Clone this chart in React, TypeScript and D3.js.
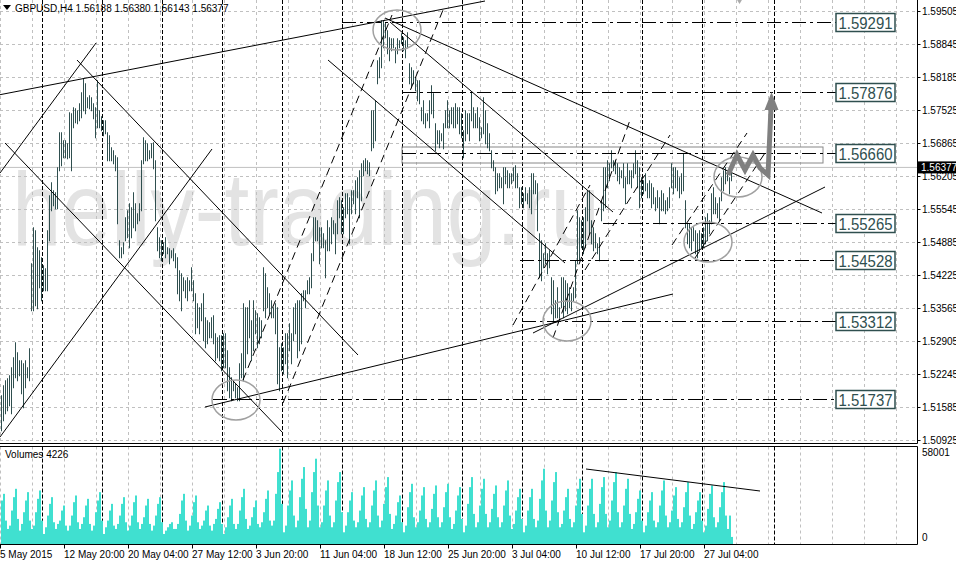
import React from "react";
import * as d3 from "d3";

// ---------- DATA ----------
const highs = [
1.5182,1.5202,1.5212,1.5216,1.5222,1.5238,1.5258,1.5288,1.5268,1.5252,
1.5252,1.5246,1.5252,1.5238,1.5276,1.5446,1.5518,1.5512,1.5478,1.5472,
1.5458,1.5442,1.5436,1.5512,1.5582,1.5608,1.5592,1.5588,1.5638,1.5708,
1.5708,1.5692,1.5692,1.5686,1.5748,1.5746,1.5758,1.5756,1.5752,1.5766,
1.5788,1.5816,1.5806,1.5778,1.5782,1.5778,1.5766,1.5758,1.5812,1.5752,
1.5740,1.5732,1.5732,1.5708,1.5702,1.5678,1.5672,1.5662,1.5658,1.5492,
1.5478,1.5488,1.5538,1.5552,1.5566,1.5558,1.5588,1.5566,1.5546,1.5566,
1.5652,1.5698,1.5692,1.5686,1.5672,1.5686,1.5688,1.5652,1.5518,1.5498,
1.5492,1.5488,1.5498,1.5478,1.5476,1.5472,1.5476,1.5466,1.5458,1.5432,
1.5426,1.5418,1.5412,1.5418,1.5412,1.5438,1.5412,1.5386,1.5366,1.5358,
1.5366,1.5386,1.5338,1.5332,1.5328,1.5338,1.5342,1.5306,1.5298,1.5302,
1.5302,1.5306,1.5306,1.5272,1.5238,1.5218,1.5212,1.5206,1.5198,1.5246,
1.5266,1.5366,1.5358,1.5358,1.5372,1.5332,1.5372,1.5352,1.5346,1.5338,
1.5332,1.5438,1.5426,1.5398,1.5386,1.5372,1.5358,1.5366,1.5358,1.5278,
1.5286,1.5278,1.5306,1.5306,1.5326,1.5306,1.5358,1.5366,1.5372,1.5372,
1.5386,1.5392,1.5392,1.5412,1.5418,1.5466,1.5538,1.5538,1.5532,1.5518,
1.5518,1.5506,1.5492,1.5532,1.5518,1.5538,1.5532,1.5526,1.5572,1.5578,
1.5572,1.5558,1.5586,1.5586,1.5578,1.5592,1.5592,1.5612,1.5618,1.5632,
1.5646,1.5652,1.5656,1.5652,1.5648,1.5752,1.5752,1.5772,1.5852,1.5858,
1.5932,1.5932,1.5928,1.5912,1.5898,1.5896,1.5896,1.5878,1.5896,1.5892,
1.5906,1.5898,1.5892,1.5908,1.5846,1.5838,1.5832,1.5818,1.5812,1.5812,
1.5758,1.5772,1.5746,1.5746,1.5772,1.5802,1.5786,1.5726,1.5712,1.5712,
1.5706,1.5726,1.5752,1.5772,1.5752,1.5758,1.5758,1.5766,1.5758,1.5758,
1.5746,1.5712,1.5752,1.5746,1.5746,1.5788,1.5758,1.5746,1.5758,1.5738,
1.5718,1.5778,1.5752,1.5726,1.5706,1.5672,1.5652,1.5638,1.5626,1.5626,
1.5618,1.5638,1.5638,1.5632,1.5626,1.5626,1.5638,1.5642,1.5626,1.5598,
1.5598,1.5586,1.5598,1.5586,1.5598,1.5626,1.5626,1.5612,1.5606,1.5506,
1.5492,1.5466,1.5486,1.5466,1.5472,1.5418,1.5412,1.5372,1.5398,1.5358,
1.5418,1.5418,1.5412,1.5406,1.5398,1.5386,1.5398,1.5452,1.5552,1.5538,
1.5532,1.5538,1.5558,1.5592,1.5592,1.5532,1.5518,1.5506,1.5486,1.5498,
1.5572,1.5638,1.5638,1.5652,1.5646,1.5672,1.5652,1.5652,1.5646,1.5638,
1.5632,1.5646,1.5618,1.5646,1.5632,1.5632,1.5646,1.5672,1.5652,1.5638,
1.5618,1.5612,1.5626,1.5606,1.5612,1.5606,1.5598,1.5578,1.5592,1.5578,
1.5592,1.5586,1.5572,1.5578,1.5598,1.5646,1.5638,1.5638,1.5632,1.5618,
1.5626,1.5666,1.5572,1.5526,1.5526,1.5518,1.5518,1.5512,1.5506,1.5512,
1.5506,1.5518,1.5538,1.5546,1.5532,1.5586,1.5598,1.5578,1.5566,1.5578,
1.5618,1.5632,1.5638,1.5632,1.5618,1.5638
];

const lows = [
1.5112,1.5132,1.5146,1.5152,1.5162,1.5146,1.5198,1.5218,1.5212,1.5222,
1.5186,1.5158,1.5198,1.5218,1.5212,1.5352,1.5352,1.5362,1.5356,1.5398,
1.5372,1.5392,1.5392,1.5392,1.5492,1.5552,1.5562,1.5556,1.5556,1.5632,
1.5642,1.5658,1.5658,1.5656,1.5658,1.5632,1.5718,1.5728,1.5726,1.5732,
1.5738,1.5752,1.5746,1.5758,1.5756,1.5752,1.5736,1.5698,1.5718,1.5718,
1.5712,1.5702,1.5706,1.5652,1.5652,1.5652,1.5646,1.5632,1.5526,1.5458,
1.5458,1.5466,1.5492,1.5498,1.5478,1.5498,1.5518,1.5512,1.5526,1.5532,
1.5552,1.5646,1.5652,1.5652,1.5656,1.5658,1.5636,1.5532,1.5472,1.5458,
1.5452,1.5466,1.5458,1.5466,1.5446,1.5458,1.5452,1.5438,1.5386,1.5372,
1.5352,1.5392,1.5378,1.5372,1.5392,1.5392,1.5372,1.5306,1.5318,1.5306,
1.5332,1.5292,1.5278,1.5286,1.5298,1.5298,1.5286,1.5252,1.5258,1.5252,
1.5232,1.5238,1.5238,1.5192,1.5178,1.5172,1.5192,1.5178,1.5172,1.5172,
1.5218,1.5212,1.5238,1.5266,1.5298,1.5252,1.5272,1.5306,1.5278,1.5286,
1.5298,1.5352,1.5338,1.5358,1.5346,1.5338,1.5338,1.5306,1.5206,1.5192,
1.5232,1.5226,1.5246,1.5218,1.5272,1.5246,1.5292,1.5306,1.5258,1.5272,
1.5286,1.5372,1.5358,1.5386,1.5386,1.5398,1.5452,1.5492,1.5492,1.5446,
1.5478,1.5478,1.5418,1.5472,1.5472,1.5486,1.5506,1.5466,1.5506,1.5538,
1.5506,1.5506,1.5538,1.5546,1.5486,1.5546,1.5566,1.5546,1.5578,1.5538,
1.5572,1.5622,1.5632,1.5626,1.5622,1.5672,1.5678,1.5692,1.5806,1.5818,
1.5838,1.5878,1.5898,1.5866,1.5852,1.5872,1.5878,1.5848,1.5866,1.5878,
1.5886,1.5872,1.5858,1.5878,1.5806,1.5798,1.5806,1.5792,1.5772,1.5766,
1.5732,1.5726,1.5718,1.5732,1.5718,1.5746,1.5738,1.5672,1.5686,1.5678,
1.5692,1.5676,1.5718,1.5718,1.5718,1.5726,1.5718,1.5718,1.5726,1.5706,
1.5698,1.5658,1.5692,1.5706,1.5692,1.5732,1.5718,1.5718,1.5718,1.5692,
1.5698,1.5706,1.5686,1.5678,1.5672,1.5638,1.5632,1.5586,1.5592,1.5598,
1.5598,1.5566,1.5606,1.5598,1.5598,1.5606,1.5612,1.5598,1.5598,1.5558,
1.5566,1.5558,1.5572,1.5566,1.5558,1.5546,1.5586,1.5586,1.5512,1.5418,
1.5412,1.5438,1.5446,1.5426,1.5438,1.5346,1.5332,1.5338,1.5338,1.5338,
1.5358,1.5338,1.5352,1.5346,1.5358,1.5352,1.5372,1.5378,1.5446,1.5452,
1.5478,1.5466,1.5478,1.5532,1.5506,1.5486,1.5472,1.5478,1.5466,1.5452,
1.5532,1.5552,1.5558,1.5598,1.5612,1.5638,1.5632,1.5626,1.5612,1.5606,
1.5618,1.5598,1.5566,1.5606,1.5606,1.5598,1.5618,1.5626,1.5598,1.5558,
1.5578,1.5586,1.5592,1.5578,1.5578,1.5558,1.5566,1.5552,1.5558,1.5526,
1.5552,1.5552,1.5546,1.5552,1.5558,1.5598,1.5586,1.5598,1.5592,1.5578,
1.5586,1.5592,1.5518,1.5486,1.5478,1.5472,1.5492,1.5466,1.5458,1.5472,
1.5478,1.5478,1.5486,1.5492,1.5506,1.5526,1.5546,1.5546,1.5538,1.5532,
1.5572,1.5592,1.5606,1.5612,1.5586,1.5612
];

// tick volume, thousands
const volumesK = [
26,30,14,
9,11,20,28,33,15, 8,12,19,26,31,14, 9,11,19,27,32,14, 6,10,17,24,28,13, 9,12,14,20,23,11,
8,11,17,25,29,13, 9,12,16,23,27,12, 8,11,19,26,31,14, 6,10,14,20,24,11, 9,12,17,24,28,13,
8,11,17,25,29,13, 9,12,16,23,27,12, 8,11,17,24,28,13, 6,8,10,12,13,9, 9,12,18,26,30,14,
8,11,17,25,29,13, 9,11,14,20,23,11, 8,12,15,21,25,12, 6,10,16,23,27,12, 9,12,20,28,33,15,
9,11,16,22,26,12, 10,13,19,27,32,14, 11,14,30,43,57,24, 7,11,23,32,38,17, 10,14,28,39,46,21,
10,14,31,43,51,23, 10,13,23,32,38,17, 10,13,26,37,43,19, 7,11,19,26,31,14, 10,13,20,29,34,15,
10,13,23,32,38,17, 10,14,24,34,40,18, 9,12,17,25,29,13, 7,11,22,31,36,16, 10,13,20,29,34,15,
10,13,21,30,35,16, 10,13,22,31,36,16, 9,12,20,29,34,15, 7,11,24,34,40,18, 10,13,23,33,39,18,
10,13,21,30,35,16, 10,13,23,32,38,17, 9,12,20,28,33,15, 7,11,20,28,33,15, 10,14,27,38,45,20,
10,14,26,37,43,19, 10,12,20,28,33,15, 10,13,23,33,39,18, 7,11,23,33,39,18, 10,13,24,34,40,18,
10,14,26,37,43,19, 10,13,23,33,39,18, 9,12,19,27,32,14, 7,11,19,26,31,14, 10,13,23,32,38,17,
10,13,20,29,34,15, 10,13,22,31,37,17, 9,12,19,26,31,14, 7,11,21,30,35,16, 10,13,22,31,37,17,
9,17,4.226
];

const priceTicks = [1.59505,1.58845,1.58185,1.57525,1.56865,1.56205,1.55545,1.54885,1.54225,1.53565,1.52905,1.52245,1.51585,1.50925];
const timeLabels = ["5 May 2015","12 May 20:00","20 May 04:00","27 May 12:00","3 Jun 20:00","11 Jun 04:00","18 Jun 12:00","25 Jun 20:00","3 Jul 04:00","10 Jul 12:00","17 Jul 20:00","27 Jul 04:00"];
const weekStarts = [20.5,50.5,80.5,110.5,140.5,170.5,200.5,230.5,260.5,290.5,320.5,350.5,386.5];
const levels = [1.59291,1.57876,1.56660,1.55265,1.54528,1.53312,1.51737];
const levelStartBar = [170.25,200.25,200.25,300.75,259.25,260.25,105.75];
const currentPrice = 1.56377;
const volMax = 58001;
const lastVolume = 4226;
// trend lines: [bar1, price1, bar2, price2]
const solidLines = [
  [-0.75,1.57831,241.75,1.59705],
  [-0.75,1.56265,47.25,1.58865],
  [37.75,1.58525,178.25,1.52625],
  [1.75,1.56865,140.75,1.51065],
  [-0.75,1.50985,105.25,1.56745],
  [101.75,1.51585,335.75,1.53845],
  [265.75,1.53065,411.75,1.55985],
  [191.75,1.59365,410.25,1.55465],
  [194.25,1.59285,305.75,1.55485],
  [163.25,1.58525,281.75,1.54465]
];
const dashedLines = [
  [120.75,1.52125,195.25,1.59425],
  [140.75,1.51665,220.75,1.59525],
  [255.75,1.53225,294.25,1.56025],
  [275.75,1.52965,314.25,1.57325],
  [291.75,1.54325,334.25,1.57025],
  [335.25,1.54825,372.75,1.57065],
  [346.75,1.54565,382.75,1.56725]
];
const zone = [200.25,1.56785,410.75,1.56465];
const circleCenters = [[197.75,1.59125],[117.25,1.51725],[282.75,1.53305],[353.25,1.54885],[368.25,1.56185]];
const arrowPath = [[363.25,1.56225],[367.75,1.56625],[371.75,1.56325],[375.75,1.56625],[379.25,1.56365],[383.25,1.56225],[384.75,1.57565]];
const arrowTip = [385.0,1.57885];
const volTrend = [292.25,44846,379.25,31691];

const FONT = "'Liberation Sans', Arial, sans-serif";

export default function App() {
  const W = 956, H = 561;
  const axisX = 917.5;
  const x = d3.scaleLinear().domain([0, 365]).range([1.5, 731.5]);
  const y = d3.scaleLinear().domain([1.50925, 1.59505]).range([440, 11]);
  const yv = d3.scaleLinear().domain([0, volMax]).range([544, 447]);
  const mainBottom = 443.5, volTop = 446.5, volBottom = 544.5;

  const gridIdx = d3.range(0, 29).map((k) => 16 * k - 0.5);
  const fmt = d3.format(".5f");
  const line = d3.line<number[]>().x((d) => x(d[0])).y((d) => y(d[1]));

  const tip = arrowTip;
  const last = arrowPath[arrowPath.length - 1];
  const tx = x(tip[0]), ty = y(tip[1]);
  const headBaseY = y(last[1]);

  return (
    <svg width={W} height={H} style={{ position: "absolute", left: 0, top: 0, background: "#fff" }} fontFamily={FONT}>
      <rect x={0} y={0} width={W} height={H} fill="#fff" />
      {/* watermark */}
      <text x={12} y={245} fontSize={104} fill="#e3e3e3" textLength={588} lengthAdjust="spacingAndGlyphs">helly-trading.ru</text>

      {/* gray grid */}
      <g stroke="#c0c0c0" strokeWidth={1} strokeDasharray="3,3">
        {priceTicks.map((p, i) => (
          <line key={"h" + i} x1={0} x2={axisX} y1={Math.round(y(p)) + 0.5} y2={Math.round(y(p)) + 0.5} />
        ))}
        {gridIdx.map((g, i) => (
          <g key={"v" + i}>
            <line x1={x(g)} x2={x(g)} y1={0} y2={mainBottom} />
            <line x1={x(g)} x2={x(g)} y1={volTop} y2={volBottom} />
          </g>
        ))}
      </g>
      {/* week separators */}
      <g stroke="#000" strokeWidth={1} strokeDasharray="4,2">
        {weekStarts.map((w, i) => (
          <g key={"w" + i}>
            <line x1={x(w)} x2={x(w)} y1={0} y2={mainBottom} />
            <line x1={x(w)} x2={x(w)} y1={volTop} y2={volBottom} />
          </g>
        ))}
      </g>

      {/* current price line */}
      <line x1={0} x2={axisX} y1={y(currentPrice)} y2={y(currentPrice)} stroke="#c0c0c0" strokeWidth={1} />

      {/* zone rectangle */}
      <rect x={x(zone[0])} y={y(zone[1])} width={x(zone[2]) - x(zone[0])} height={y(zone[3]) - y(zone[1])} fill="none" stroke="#888" strokeWidth={1} />

      {/* price bars */}
      <g stroke="#2f4f4f" strokeWidth={1}>
        {highs.map((h, i) => (
          <line key={"b" + i} x1={x(i)} x2={x(i)} y1={y(h)} y2={y(lows[i]) + 1} />
        ))}
      </g>

      {/* horizontal levels */}
      <g stroke="#000" strokeWidth={1} strokeDasharray="14,4,3,4">
        {levels.map((l, i) => (
          <line key={"l" + i} x1={x(levelStartBar[i])} x2={836} y1={Math.round(y(l)) + 0.5} y2={Math.round(y(l)) + 0.5} />
        ))}
      </g>

      {/* trend lines */}
      <g stroke="#000" strokeWidth={1} fill="none">
        {solidLines.map((l, i) => (
          <path key={"s" + i} d={line([[l[0], l[1]], [l[2], l[3]]]) || ""} />
        ))}
      </g>
      <g stroke="#000" strokeWidth={1} fill="none" strokeDasharray="8,5">
        {dashedLines.map((l, i) => (
          <path key={"d" + i} d={line([[l[0], l[1]], [l[2], l[3]]]) || ""} />
        ))}
      </g>

      {/* circles */}
      <g stroke="#a0a0a0" strokeWidth={1.5} fill="none">
        {circleCenters.map((c, i) => (
          <ellipse key={"c" + i} cx={x(c[0])} cy={y(c[1])} rx={24} ry={20} />
        ))}
      </g>

      {/* gray arrow */}
      <path d={line(arrowPath) || ""} fill="none" stroke="#808080" strokeWidth={5} strokeLinejoin="miter" />
      <polygon points={`${tx},${ty} ${tx - 7},${headBaseY + 2} ${tx + 7},${headBaseY + 2}`} fill="#808080" />
      <polygon points={`${x(366)},${-6} ${x(369)},${4} ${x(372)},${-6}`} fill="#aaa" />

      {/* level labels */}
      {levels.map((l, i) => {
        const cy = Math.round(y(l)) + 0.5;
        return (
          <g key={"lb" + i}>
            <rect x={836} y={cy - 9} width={59} height={18} fill="#fff" stroke="#2f4f4f" strokeWidth={1.5} />
            <text x={838.5} y={cy + 6} fontSize={17} fill="#2f4f4f" textLength={54} lengthAdjust="spacingAndGlyphs">{fmt(l)}</text>
          </g>
        );
      })}

      {/* volumes */}
      <g fill="#40e0d0">
        {volumesK.map((v, i) => (
          <rect key={"v" + i} x={x(i) - 0.5} y={yv(v * 1000)} width={2} height={544 - yv(v * 1000)} />
        ))}
      </g>
      <path d={`M${x(volTrend[0])},${yv(volTrend[1])}L${x(volTrend[2])},${yv(volTrend[3])}`} stroke="#000" strokeWidth={1} />

      {/* frames */}
      <g stroke="#000" strokeWidth={1}>
        <line x1={0} x2={axisX} y1={mainBottom} y2={mainBottom} />
        <line x1={0} x2={axisX} y1={volTop} y2={volTop} />
        <line x1={0} x2={axisX} y1={volBottom} y2={volBottom} />
        <line x1={axisX} x2={axisX} y1={0} y2={mainBottom} />
        <line x1={axisX} x2={axisX} y1={volTop} y2={volBottom} />
      </g>

      {/* price axis */}
      {priceTicks.map((p, i) => (
        <g key={"pt" + i}>
          <line x1={axisX} x2={axisX + 3} y1={Math.round(y(p)) + 0.5} y2={Math.round(y(p)) + 0.5} stroke="#000" />
          <text x={922} y={y(p) + 3.5} fontSize={10} fill="#000">{fmt(p)}</text>
        </g>
      ))}
      <rect x={918} y={y(currentPrice) - 6} width={38} height={12} fill="#000" />
      <text x={921} y={y(currentPrice) + 3.5} fontSize={10} fill="#fff">{fmt(currentPrice)}</text>

      {/* volume axis */}
      <text x={922} y={456} fontSize={10} fill="#000">{volMax}</text>
      <text x={922} y={541} fontSize={10} fill="#000">0</text>
      <text x={5} y={458} fontSize={10} fill="#000">{"Volumes " + lastVolume}</text>

      {/* time axis */}
      {timeLabels.map((t, i) => {
        const tx0 = x(32 * i - 0.75);
        return (
          <g key={"tl" + i}>
            <line x1={Math.round(tx0) + 0.5} x2={Math.round(tx0) + 0.5} y1={volBottom} y2={volBottom + 4} stroke="#000" />
            <text x={tx0} y={558} fontSize={10} fill="#000">{t}</text>
          </g>
        );
      })}

      {/* header */}
      <polygon points="3,5 11,5 7,10" fill="#000" />
      <text x={15} y={12} fontSize={10} fill="#000">GBPUSD,H4  1.56188 1.56380 1.56143 1.56377</text>
    </svg>
  );
}
